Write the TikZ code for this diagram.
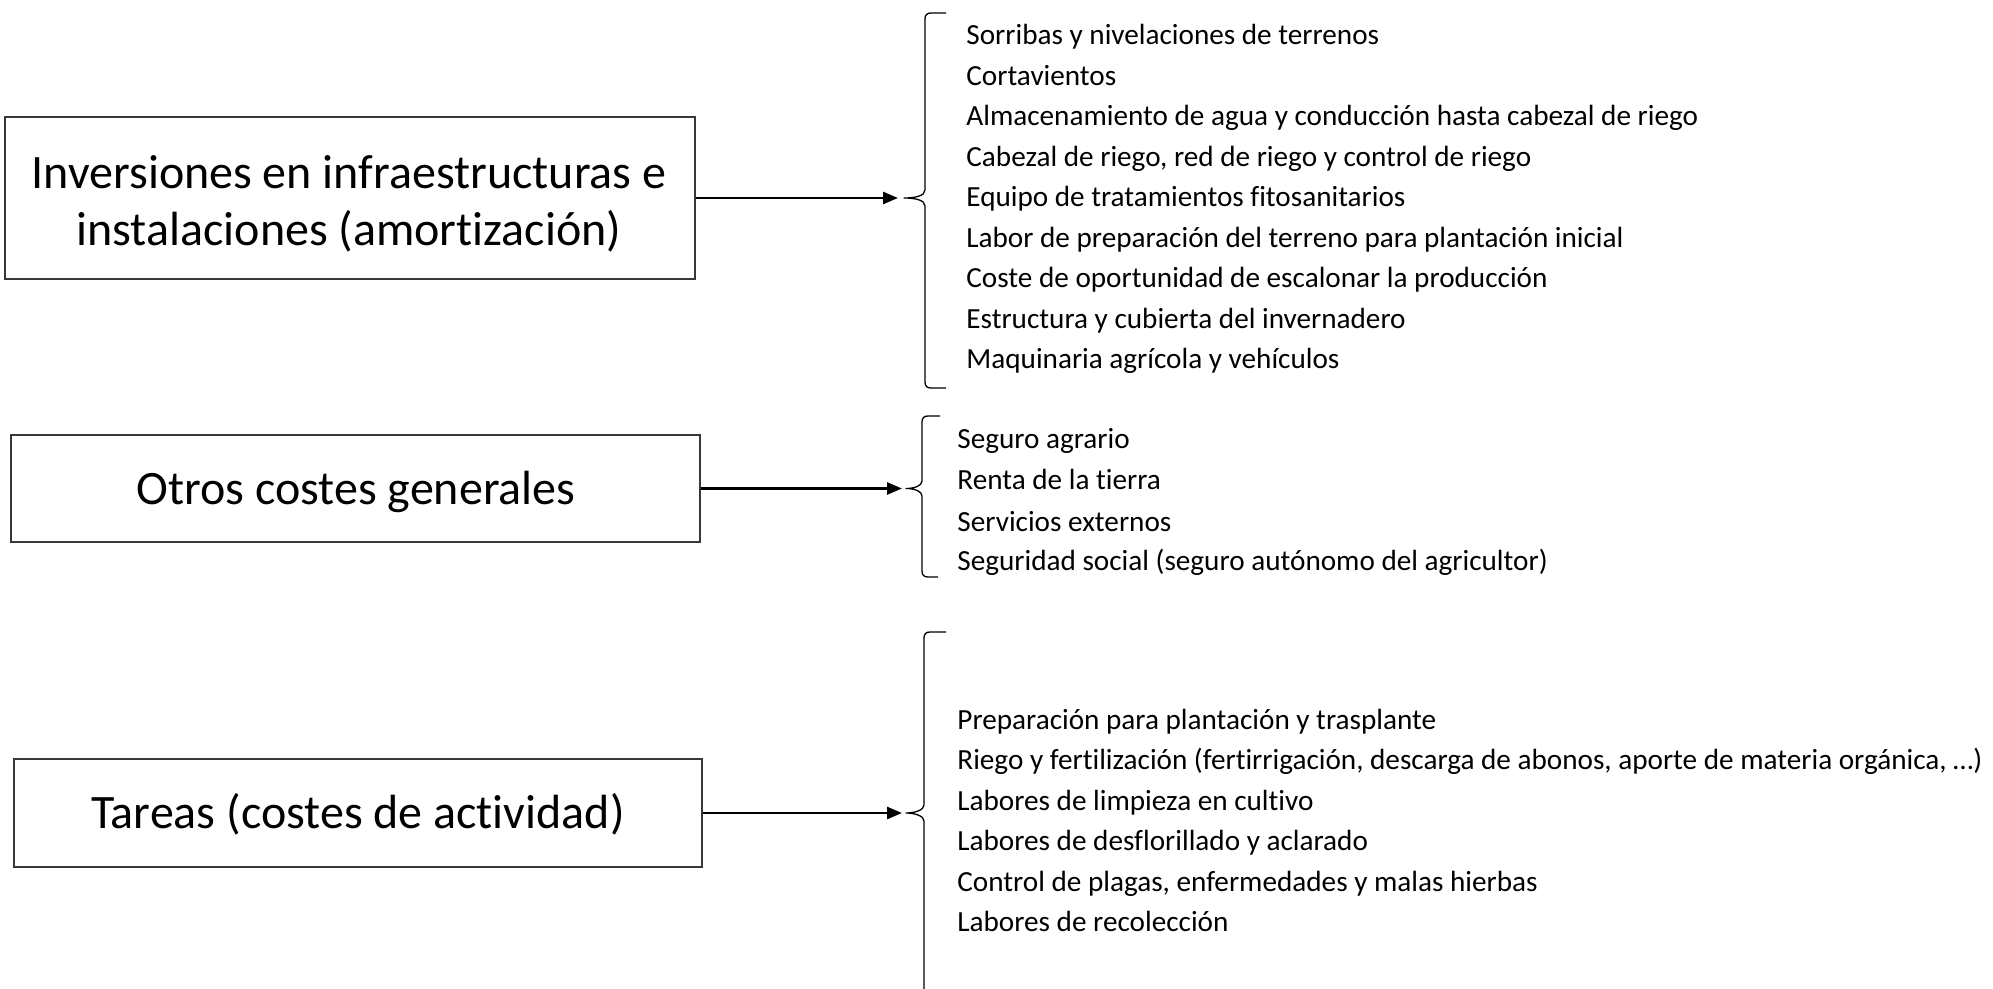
\documentclass[tikz,border=0pt]{standalone}
\usepackage{fontspec}
\setmainfont{Carlito}[Ligatures={NoCommon}]
\usetikzlibrary{arrows.meta}
\begin{document}
\begin{tikzpicture}[x=0.5pt,y=-0.5pt,
  box/.style={draw=black!78, line width=0.65pt, inner sep=0pt},
  bigtxt/.style={font=\fontsize{24pt}{28.5pt}\selectfont, inner sep=0pt, anchor=base},
  item/.style={font=\fontsize{14.6pt}{20pt}\selectfont, inner sep=0pt, anchor=base west},
  arr/.style={line width=1.35pt, -{Triangle[length=7.5pt,width=6pt]}},
  bracel/.style={line width=0.65pt, line join=round}]
\useasboundingbox (0,0) rectangle (1993,989);

% boxes
\node[box, minimum width=345pt, minimum height=81pt] (inv) at (350,198) {};
\node[bigtxt] (inv1) at (349,189) {Inversiones en infraestructuras e};
\node[bigtxt] (inv2) at (349,246) {instalaciones (amortización)};

\node[box, minimum width=344.5pt, minimum height=53.5pt] (otr) at (355.5,488.5) {};
\node[bigtxt] (otrt) at (356,504.5) {Otros costes generales};

\node[box, minimum width=344pt, minimum height=54pt] (tar) at (358,813) {};
\node[bigtxt] (tart) at (358,828) {Tareas (costes de actividad)};

% arrow ends and brace tips
\coordinate (a1) at (898,198);
\coordinate (a2) at (902,488.5);
\coordinate (a3) at (902,813);

\draw[arr] (inv.east) -- (a1);
\draw[arr] (otr.east) -- (a2);
\draw[arr] (tar.east) -- (a3);

% braces
\draw[bracel] (946,13) -- (931,13) .. controls (927,13) and (925,15) .. (925,19)
  -- (925,190) .. controls (925,196) and (915,198) .. (904,198)
  .. controls (915,198) and (925,200) .. (925,206)
  -- (925,382) .. controls (925,386) and (927,388) .. (931,388) -- (946,388);

\draw[bracel] (940,416) -- (928,416) .. controls (924,416) and (922,418) .. (922,422)
  -- (922,481) .. controls (922,486) and (914,488.5) .. (906,488.5)
  .. controls (914,488.5) and (922,491) .. (922,496)
  -- (922,571) .. controls (922,575) and (924,577) .. (928,577) -- (938,577);

\draw[bracel] (946,632) -- (930,632) .. controls (926,632) and (924,634) .. (924,638)
  -- (924,805) .. controls (924,810) and (915,813) .. (906,813)
  .. controls (915,813) and (924,816) .. (924,821)
  -- (924,995);

% list 1
\node[item] (l1a) at (966,45) {Sorribas y nivelaciones de terrenos};
\node[item] (l1b) at (966,85.5) {Cortavientos};
\node[item] (l1c) at (966,126) {Almacenamiento de agua y conducción hasta cabezal de riego};
\node[item] (l1d) at (966,166.5) {Cabezal de riego, red de riego y control de riego};
\node[item] (l1e) at (966,207) {Equipo de tratamientos fitosanitarios};
\node[item] (l1f) at (966,247.5) {Labor de preparación del terreno para plantación inicial};
\node[item] (l1g) at (966,288) {Coste de oportunidad de escalonar la producción};
\node[item] (l1h) at (966,328.5) {Estructura y cubierta del invernadero};
\node[item] (l1i) at (966,369) {Maquinaria agrícola y vehículos};

% list 2
\node[item] (l2a) at (957,449) {Seguro agrario};
\node[item] (l2b) at (957,490) {Renta de la tierra};
\node[item] (l2c) at (957,531) {Servicios externos};
\node[item] (l2d) at (957,571) {Seguridad social (seguro autónomo del agricultor)};

% list 3
\node[item] (l3a) at (957,729) {Preparación para plantación y trasplante};
\node[item] (l3b) at (957,769.5) {Riego y fertilización (fertirrigación, descarga de abonos, aporte de materia orgánica, …)};
\node[item] (l3c) at (957,810) {Labores de limpieza en cultivo};
\node[item] (l3d) at (957,850.5) {Labores de desflorillado y aclarado};
\node[item] (l3e) at (957,891) {Control de plagas, enfermedades y malas hierbas};
\node[item] (l3f) at (957,931.5) {Labores de recolección};
\end{tikzpicture}
\end{document}
